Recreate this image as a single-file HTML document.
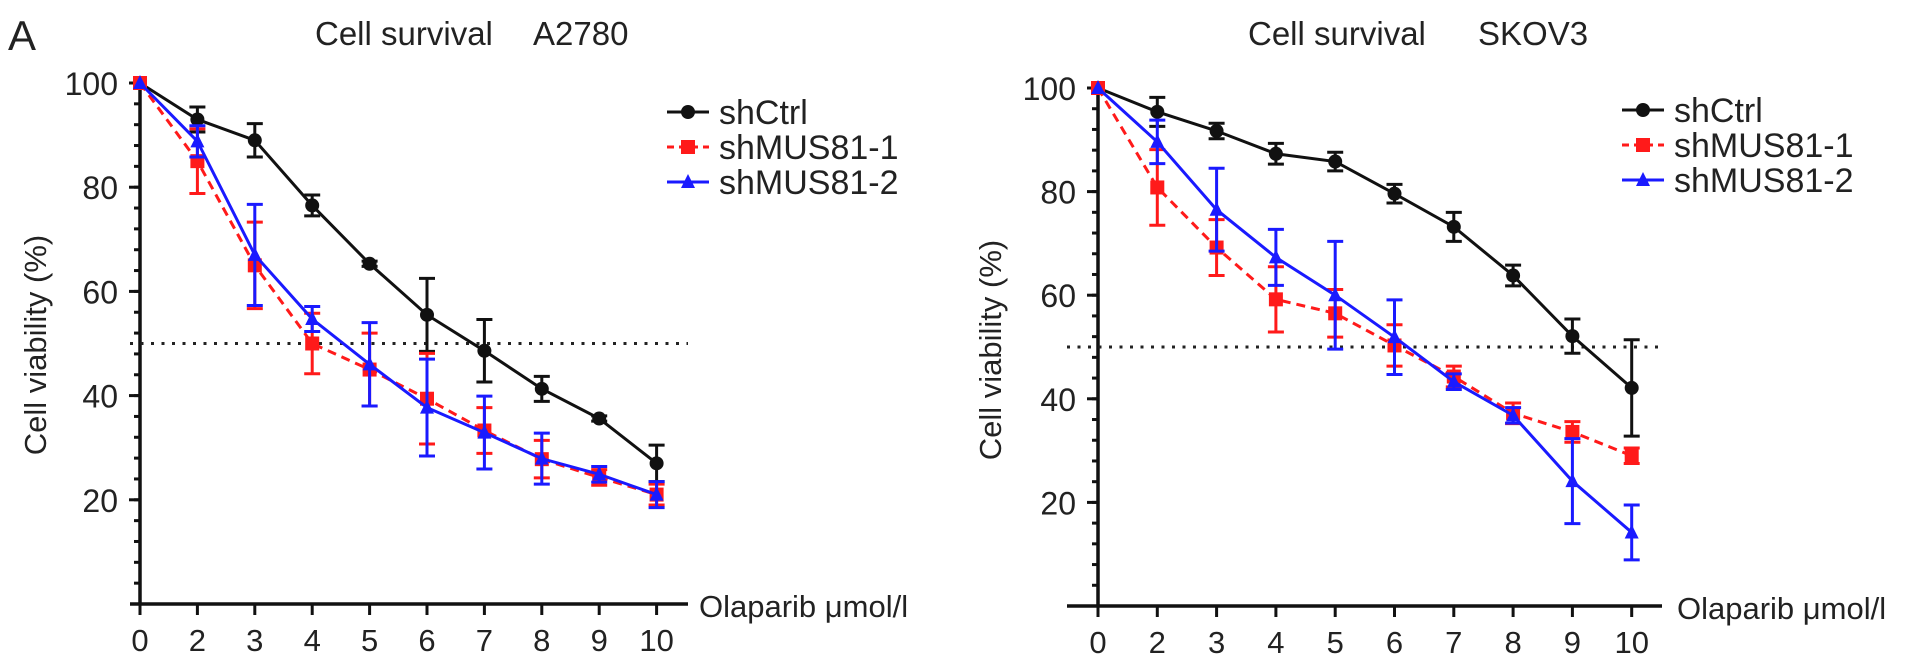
<!DOCTYPE html>
<html><head><meta charset="utf-8">
<style>
html,body{margin:0;padding:0;background:#fff;}
svg{display:block;font-family:"Liberation Sans",sans-serif;}
</style></head>
<body>
<svg id="fig" width="1913" height="665" viewBox="0 0 1913 665" xmlns="http://www.w3.org/2000/svg">
<text x="8" y="50" font-size="42" fill="#222">A</text>
</svg>
<script>
const categories = ["0","2","3","4","5","6","7","8","9","10"];
const yTicks = [20,40,60,80,100];
const seriesNames = ["shCtrl","shMUS81-1","shMUS81-2"];
// A2780
const a2780Ctrl = [100,93,89,76.5,65.3,55.5,48.6,41.3,35.6,27];
const a2780CtrlErr = [0,2.4,3.2,2,0.5,7,6,2.4,0.5,3.5];
const a2780M1 = [100,85,65,50,45,39.4,33.3,27.8,24.3,21];
const a2780M1Err = [0,6.2,8.3,5.8,7,8.7,4.4,3.6,1.5,2];
const a2780M2 = [100,88.8,67,54.7,46,37.7,32.9,27.9,24.9,21];
const a2780M2Err = [0,3,9.7,2.4,8,9.3,7,4.9,1.5,2.5];
// SKOV3
const skovCtrl = [100,95.4,91.7,87.3,85.8,79.6,73.2,63.8,52.1,42.1];
const skovCtrlErr = [0,2.8,1.5,2,1.8,1.8,2.8,2,3.3,9.3];
const skovM1 = [100,80.8,69.2,59.2,56.5,50.3,44.3,37.2,33.6,29];
const skovM1Err = [0,7.3,5.4,6.3,4.6,4,2,2,2,1.5];
const skovM2 = [100,89.6,76.5,67.3,60,51.9,43.3,36.8,24.1,14.2];
const skovM2Err = [0,4.2,8,5.4,10.4,7.2,1.5,1.5,8.2,5.3];

const NS="http://www.w3.org/2000/svg";
const svg=document.getElementById('fig');
function mk(tag,attrs,parent){const e=document.createElementNS(NS,tag);for(const k in attrs)e.setAttribute(k,attrs[k]);(parent||svg).appendChild(e);return e;}

const colors=["#111","#ff1a1a","#1a1aff"];
const dashes=["none","9,6","none"];

function panel(cfg){
  const g=mk('g',{});
  
  
  const X=i=>cfg.x0+i*cfg.dx;
  const Y=v=>cfg.y0-v*(cfg.y0-cfg.y100)/100;
  let t=mk('text',{x:cfg.tx1,y:45,'font-size':33,fill:'#222'},g);t.textContent='Cell survival';
  
  t=mk('text',{x:cfg.tx2,y:45,'font-size':33,fill:'#222'},g);t.textContent=cfg.cell;
  
  let a=mk('line',{x1:cfg.x0,y1:Y(0)+1,x2:cfg.x0,y2:Y(100)-2,stroke:'#111','stroke-width':3.5},g);
  
  for(let v=4;v<100;v+=4){
    const m=mk('line',{x1:cfg.x0-6,y1:Y(v),x2:cfg.x0,y2:Y(v),stroke:'#111','stroke-width':3},g);
    
  }
  yTicks.forEach(v=>{
    const l=mk('line',{x1:cfg.x0-11,y1:Y(v),x2:cfg.x0,y2:Y(v),stroke:'#111','stroke-width':3},g);
    
    const tx=mk('text',{x:cfg.x0-22,y:Y(v)+12,'font-size':32,'text-anchor':'end',fill:'#222'},g);
    tx.textContent=v;
    
  });
  let yl=mk('text',{x:0,y:0,'font-size':31,'text-anchor':'middle',fill:'#222',transform:`translate(${cfg.ylx},${cfg.yly}) rotate(-90)`},g);
  yl.textContent='Cell viability (%)';
  
  a=mk('line',{x1:cfg.xa0,y1:Y(0),x2:cfg.xa1,y2:Y(0),stroke:'#111','stroke-width':3.5},g);
  
  categories.forEach((c,i)=>{
    const l=mk('line',{x1:X(i),y1:Y(0),x2:X(i),y2:Y(0)+11,stroke:'#111','stroke-width':3},g);
    
    const tx=mk('text',{x:X(i),y:Y(0)+47,'font-size':31,'text-anchor':'middle',fill:'#222'},g);
    tx.textContent=c;
    
  });
  let xl=mk('text',{x:cfg.xlx,y:Y(0)+13,'font-size':31,fill:'#222'},g);
  xl.textContent='Olaparib μmol/l';
  
  const d=mk('line',{x1:cfg.xa0,y1:Y(50),x2:cfg.xa1,y2:Y(50),stroke:'#222','stroke-width':3,'stroke-dasharray':'3,7.5'},g);
  
  cfg.series.forEach((s,k)=>{
    const sg=mk('g',{},g);
    
    
    const col=colors[k];
    s.vals.forEach((v,i)=>{
      const e=s.err[i]; if(!e) return;
      const x=X(i);
      const b=mk('path',{d:`M${x},${Y(v+e)}V${Y(v-e)}M${x-8},${Y(v+e)}h16M${x-8},${Y(v-e)}h16`,stroke:col,'stroke-width':3,fill:'none'},sg);
      
    });
    const p=mk('polyline',{points:s.vals.map((v,i)=>X(i)+','+Y(v)).join(' '),stroke:col,'stroke-width':3,fill:'none','stroke-dasharray':dashes[k]},sg);
    
    s.vals.forEach((v,i)=>marker(sg,k,X(i),Y(v)));
  });
  const lg=mk('g',{},g);
  
  seriesNames.forEach((n,k)=>{
    const y=cfg.ly+k*35;
    const le=mk('g',{},lg);
    
    mk('line',{x1:cfg.lx,y1:y,x2:cfg.lx+42,y2:y,stroke:colors[k],'stroke-width':3,'stroke-dasharray':k==1?'7,5':'none'},le);
    marker(le,k,cfg.lx+21,y);
    const tx=mk('text',{x:cfg.lx+52,y:y+12,'font-size':34,fill:'#222'},le);
    tx.textContent=n;
  });
}
function marker(parent,k,x,y){
  let m;
  if(k==0) m=mk('circle',{cx:x,cy:y,r:7,fill:colors[0]},parent);
  else if(k==1) m=mk('rect',{x:x-7,y:y-7,width:14,height:14,fill:colors[1]},parent);
  else m=mk('path',{d:`M${x},${y-8}L${x+7},${y+6}L${x-7},${y+6}Z`,fill:colors[2]},parent);
  
  
}
panel({name:'chart-a2780',cell:'A2780',x0:140,dx:57.4,y0:604,y100:83,xa0:130,xa1:688,xlx:699,ylx:46,yly:345,tx1:315,tx2:533,lx:667,ly:112,
  series:[{vals:a2780Ctrl,err:a2780CtrlErr},{vals:a2780M1,err:a2780M1Err},{vals:a2780M2,err:a2780M2Err}]});
panel({name:'chart-skov3',cell:'SKOV3',x0:1098,dx:59.3,y0:606,y100:88,xa0:1067,xa1:1662,xlx:1677,ylx:1001,yly:350,tx1:1248,tx2:1478,lx:1622,ly:110,
  series:[{vals:skovCtrl,err:skovCtrlErr},{vals:skovM1,err:skovM1Err},{vals:skovM2,err:skovM2Err}]});
</script>
</body></html>
